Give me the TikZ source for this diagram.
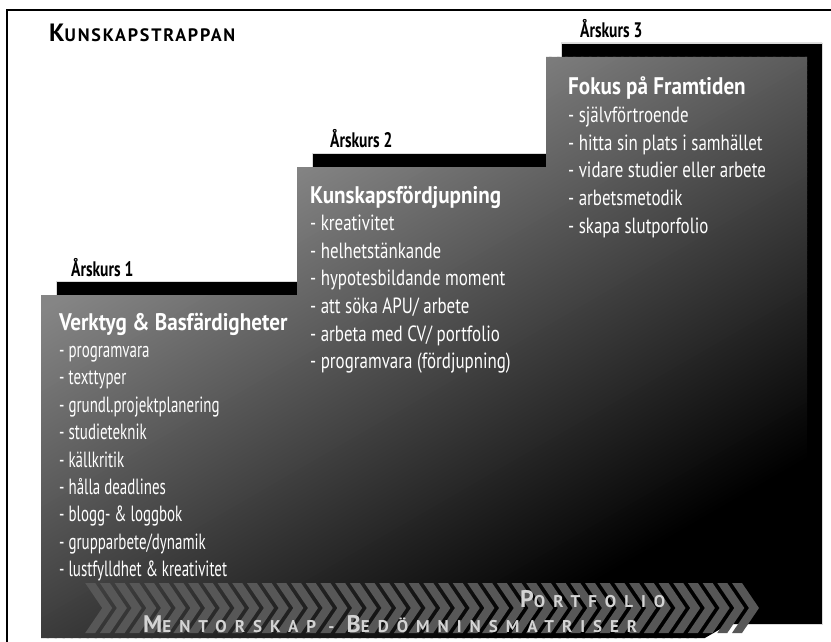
\documentclass[tikz,border=0pt]{standalone}
\usepackage{fontspec}
\setmainfont{PT Sans}
\newfontfamily\headfont[FakeStretch=0.88]{PT Sans}
\newfontfamily\yearfont[FakeStretch=0.74]{PT Sans}
\newfontfamily\stepfont[FakeStretch=0.77]{PT Sans}
\newfontfamily\tightfont[FakeStretch=0.68]{PT Sans}
\newfontfamily\titlefont[LetterSpace=10]{PT Sans}
\newfontfamily\spacedfont[LetterSpace=47]{PT Sans}
\usetikzlibrary{positioning}

\definecolor{chevgray}{HTML}{575757}
\definecolor{captext}{HTML}{D4D4D4}

\tikzset{
  stairs/.style={insert path={(41,638) -- (41,295) -- (297,295) -- (297,167) -- (546,167)
      -- (546,57) -- (807,57) -- (807,638) -- cycle}},
  yearlabel/.style={anchor=base west, inner sep=0pt, font=\yearfont\bfseries\fontsize{21}{21}\selectfont},
  stephead/.style={anchor=base west, inner sep=0pt, text=white, font=\headfont\bfseries\fontsize{24}{24}\selectfont},
  stepitem/.style={anchor=base west, inner sep=0pt, text=white, font=\stepfont\fontsize{22}{22}\selectfont},
  tightitem/.style={stepitem, font=\tightfont\fontsize{22}{22}\selectfont},
  chevron/.style={fill=chevgray},
  bandtext/.style={anchor=base west, inner sep=0pt, text=captext, font=\spacedfont\bfseries}
}

\begin{document}
\begin{tikzpicture}[x=1pt, y=-1pt]
    \useasboundingbox (0,0) rectangle (831,642);

    % frame
    \draw[line width=2] (7,642) -- (7,10) -- (831,10);

    % black shadow of the stairs
    \fill[black, draw=black!15, line width=0.6, shift={(15,-14)}] [stairs];

    % gradient stairs
    \begin{scope}
        \clip[stairs];
        \foreach \s in {0,4,...,900} {
            \pgfmathsetmacro\lvl{max(0,min(52,0.102*(800-\s)))}
            \fill[white!\lvl!black] ({0.5*\s-1039},{0.866*\s+600}) -- ({0.5*\s+1039},{0.866*\s-600})
                -- ({0.5*(\s+5)+1039},{0.866*(\s+5)-600}) -- ({0.5*(\s+5)-1039},{0.866*(\s+5)+600}) -- cycle;
        }
        % chevrons
        \foreach \k in {0,...,44} {
            \pgfmathsetmacro\xo{732-14.7*\k}
            \fill[chevron] (\xo,583) -- ++(10,0) -- ++(17,25) -- ++(-17,25) -- ++(-10,0) -- ++(17,-25) -- cycle;
        }
    \end{scope}

    % title
    \node[anchor=base west, inner sep=0pt] (title) at (49,42)
        {\titlefont\bfseries{\fontsize{25}{25}\selectfont K}{\fontsize{18}{18}\selectfont UNSKAPSTRAPPAN}};

    % year labels
    \node[yearlabel] (year1) at (71,276) {Årskurs 1};
    \node[yearlabel] (year2) at (330,147) {Årskurs 2};
    \node[yearlabel] (year3) at (580,38) {Årskurs 3};

    % step 1
    \node[stephead] (head1) at (59,330) {Verktyg \& Basfärdigheter};
    \foreach \item [count=\i] in {programvara, texttyper, grundl.projektplanering, studieteknik,
        källkritik, hålla deadlines, blogg- \& loggbok, grupparbete/dynamik, lustfylldhet \& kreativitet}
        \node[tightitem] (item1-\i) at (59,{330+27.4*\i}) {- \item};

    % step 2
    \node[stephead] (head2) at (310,203) {Kunskapsfördjupning};
    \foreach \item [count=\i] in {kreativitet, helhetstänkande, hypotesbildande moment,
        att söka APU/ arbete, arbeta med CV/ portfolio, programvara (fördjupning)}
        \node[stepitem] (item2-\i) at (310,{203+27.6*\i}) {- \item};

    % step 3
    \node[stephead] (head3) at (568,95) {Fokus på Framtiden};
    \foreach \item [count=\i] in {självförtroende, hitta sin plats i samhället,
        vidare studier eller arbete, arbetsmetodik, skapa slutporfolio}
        \node[stepitem] (item3-\i) at (568,{95+27.6*\i}) {- \item};

    % band texts
    \node[bandtext] (portfolio) at (520,607)
        {{\fontsize{24}{24}\selectfont P}{\fontsize{17}{17}\selectfont ORTFOLIO}};
    \node[bandtext] (mentor) at (143,632)
        {{\fontsize{24}{24}\selectfont M}{\fontsize{17}{17}\selectfont ENTORSKAP - }{\fontsize{24}{24}\selectfont B}{\fontsize{17}{17}\selectfont EDÖMNINSMATRISER}};
\end{tikzpicture}
\end{document}
